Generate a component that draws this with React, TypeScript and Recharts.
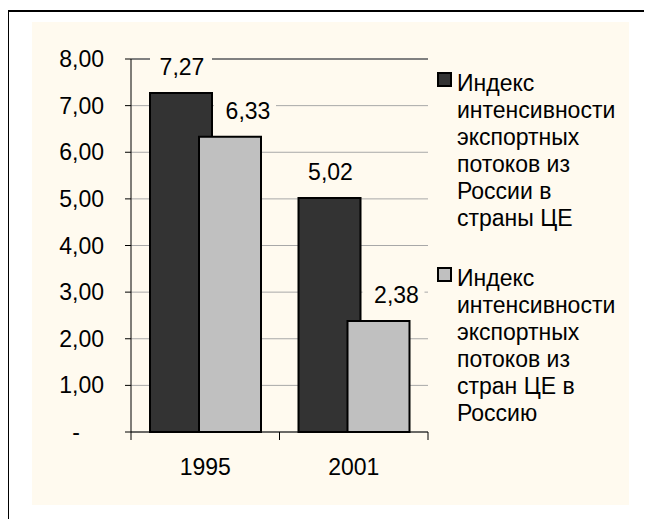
import React from "react";
import {
  BarChart,
  Bar,
  XAxis,
  YAxis,
  CartesianGrid,
  ReferenceLine,
  LabelList,
  Legend,
} from "recharts";

// data
const years = ["1995", "2001"];
const russiaToCE = [7.27, 5.02];
const ceToRussia = [6.33, 2.38];
const yTicks = [0, 1, 2, 3, 4, 5, 6, 7, 8];

const legendLines = [
  ["Индекс", "интенсивности", "экспортных", "потоков из", "России в", "страны ЦЕ"],
  ["Индекс", "интенсивности", "экспортных", "потоков из", "стран ЦЕ в", "Россию"],
];

const seriesNames = legendLines.map((l) => l.join(" "));
const data = years.map((year, i) => ({
  year,
  russiaToCE: russiaToCE[i],
  ceToRussia: ceToRussia[i],
}));

const FONT = "'Liberation Sans', Arial, sans-serif";
const FS = 23;
const BG = "#fffaef";
const DARK = "#333333";
const LIGHT = "#c0c0c0";
const PLOT_W = 297;

const fmt = (v: number) => v.toFixed(2).replace(".", ",");

function YTick(props: any) {
  const { x, y, payload } = props;
  const v = Number(payload.value);
  if (v === 0) {
    return (
      <text x={76} y={y} textAnchor="middle" dominantBaseline="central" fontSize={FS} fontFamily={FONT} fill="#000">
        -
      </text>
    );
  }
  return (
    <text x={x} y={y} textAnchor="end" dominantBaseline="central" fontSize={FS} fontFamily={FONT} fill="#000">
      {fmt(v)}
    </text>
  );
}

function XTick(props: any) {
  const { x, y, payload, index } = props;
  const band = PLOT_W / years.length;
  return (
    <g>
      <line x1={x - band / 2} x2={x - band / 2} y1={y} y2={y + 8} stroke="#000" />
      {index === years.length - 1 && (
        <line x1={x + band / 2} x2={x + band / 2} y1={y} y2={y + 8} stroke="#000" />
      )}
      <text x={x} y={y + 35} textAnchor="middle" dominantBaseline="central" fontSize={FS} fontFamily={FONT} fill="#000">
        {payload.value}
      </text>
    </g>
  );
}

function makeLabel(shift: number, boxShift: number) {
  return (props: any) => {
    const x = Number(props.x);
    const y = Number(props.y);
    const w = Number(props.width);
    const cx = x + w / 2 + shift;
    const bx = cx - boxShift - w / 2;
    const cy = y - 26;
    return (
      <g>
        <rect x={bx} y={cy - 18} width={w} height={34} fill={BG} />
        <text x={cx} y={cy} textAnchor="middle" dominantBaseline="central" fontSize={FS} fontFamily={FONT} fill="#000">
          {fmt(Number(props.value))}
        </text>
      </g>
    );
  };
}

function LegendBox(props: any) {
  const payload = props.payload || [];
  return (
    <div style={{ fontFamily: FONT, fontSize: FS, color: "#000" }}>
      {payload.map((entry: any, i: number) => (
        <div key={i} style={{ display: "flex", alignItems: "flex-start", marginBottom: i === 0 ? 33 : 0 }}>
          <div
            style={{
              width: 15,
              height: 15,
              boxSizing: "border-box",
              border: "2px solid #000",
              background: entry.color,
              marginTop: 2.5,
              marginRight: 5,
              flex: "none",
            }}
          />
          <div style={{ lineHeight: "27px", whiteSpace: "pre" }}>
            {legendLines[i].join("\n")}
          </div>
        </div>
      ))}
    </div>
  );
}

export default function App() {
  return (
    <div style={{ position: "relative", width: 652, height: 527, margin: -8, overflow: "hidden" }}>
      <div
        style={{
          position: "absolute",
          left: 7,
          top: 10,
          width: 700,
          height: 600,
          borderLeft: "2px solid #000",
          borderTop: "2px solid #000",
        }}
      />
      <div style={{ position: "absolute", left: 32, top: 22, width: 597, height: 483, background: BG }} />
      <div style={{ position: "absolute", left: 0, top: 0 }}>
        <BarChart
          width={652}
          height={527}
          data={data}
          margin={{ top: 59, right: 224, bottom: 55, left: 0 }}
          barSize={62}
          barGap={-13}
        >
          <CartesianGrid horizontal vertical={false} stroke="#a8a8a8" />
          <XAxis
            dataKey="year"
            height={40}
            tickSize={0}
            tickMargin={0}
            tickLine={false}
            axisLine={{ stroke: "#000" }}
            tick={<XTick />}
            interval={0}
          />
          <YAxis
            domain={[0, 8]}
            ticks={yTicks}
            width={131}
            tickSize={6}
            tickMargin={21}
            interval={0}
            axisLine={{ stroke: "#000" }}
            tickLine={{ stroke: "#000" }}
            tick={<YTick />}
          />
          <YAxis
            yAxisId="frame"
            orientation="right"
            domain={[0, 8]}
            width={0}
            tick={false}
            tickLine={false}
            axisLine={{ stroke: "#808080", strokeWidth: 2 }}
          />
          <ReferenceLine y={8} stroke="#808080" strokeWidth={2} />
          <Legend
            layout="vertical"
            align="center"
            verticalAlign="middle"
            content={<LegendBox />}
            wrapperStyle={{ left: 437, top: 69.5, width: 210, height: "auto" }}
          />
          <Bar
            dataKey="russiaToCE"
            name={seriesNames[0]}
            fill={DARK}
            stroke="#000"
            strokeWidth={2}
            isAnimationActive={false}
          >
            <LabelList dataKey="russiaToCE" content={makeLabel(1, 1)} />
          </Bar>
          <Bar
            dataKey="ceToRussia"
            name={seriesNames[1]}
            fill={LIGHT}
            stroke="#000"
            strokeWidth={2}
            isAnimationActive={false}
          >
            <LabelList dataKey="ceToRussia" content={makeLabel(18, 3)} />
          </Bar>
        </BarChart>
      </div>
    </div>
  );
}
